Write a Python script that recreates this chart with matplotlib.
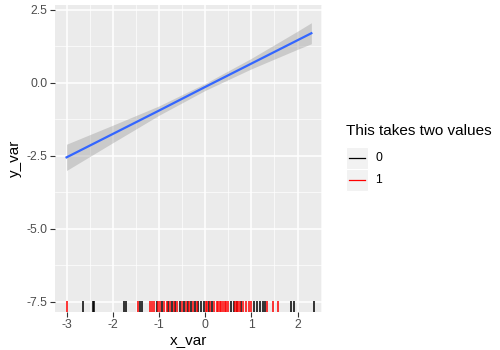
import numpy as np
import matplotlib.pyplot as plt
from matplotlib.lines import Line2D
from matplotlib.patches import Rectangle

plt.rcParams['font.family'] = ['Liberation Sans', 'DejaVu Sans']

# rug: x values for each group
rug_x0 = [-2.65, -2.43, -2.41, -1.76, -1.71, -1.40, -1.37, -1.05, -0.93, -0.80,
          -0.72, -0.65, -0.55, -0.45, -0.38, -0.30, -0.22, -0.15, -0.10, -0.02,
          0.08, 0.15, 0.55, 0.62, 0.70, 0.78, 1.05, 1.12, 1.18, 1.25, 1.30,
          1.85, 1.92, 2.35]
rug_x1 = [-3.0, -1.45, -1.20, -1.15, -1.10, -1.02, -0.97, -0.88, -0.83, -0.76,
          -0.68, -0.60, -0.50, -0.42, -0.35, -0.27, -0.18, 0.02, 0.05, 0.10,
          0.20, 0.25, 0.28, 0.32, 0.35, 0.38, 0.42, 0.45, 0.50, 0.65, 0.68,
          0.72, 0.75, 0.82, 0.88, 0.95, 1.00, 1.35, 1.48, 1.58]

# smooth (lm) fit and its confidence band
fit_x = [-3.0, -2.0, -1.0, 0.0, 1.0, 2.0, 2.3]
fit_y = [-2.55, -1.75, -0.95, -0.14, 0.66, 1.46, 1.70]
fit_lo = [-3.00, -2.05, -1.11, -0.26, 0.48, 1.15, 1.34]
fit_hi = [-2.10, -1.45, -0.79, -0.02, 0.84, 1.77, 2.06]

groups = ['0', '1']
group_cols = ['black', '#FF0000']

fig = plt.figure(figsize=(5, 3.5), dpi=100)
ax = fig.add_axes([0.11, 0.109, 0.534, 0.877])
ax.set_facecolor('#EBEBEB')

ax.set_xlim(-3.25, 2.53)
ax.set_ylim(-7.84, 2.67)

# grid
ax.set_xticks([-3, -2, -1, 0, 1, 2])
ax.set_yticks([-7.5, -5.0, -2.5, 0.0, 2.5])
ax.set_xticks(np.arange(-2.5, 2.6, 1.0), minor=True)
ax.set_yticks([-6.25, -3.75, -1.25, 1.25], minor=True)
ax.grid(True, which='major', color='white', linewidth=1.1)
ax.grid(True, which='minor', color='white', linewidth=0.5)
ax.set_axisbelow(True)
for s in ax.spines.values():
    s.set_visible(False)
ax.tick_params(which='minor', length=0)
ax.tick_params(which='major', length=3.5, width=0.8, color='#333333',
               labelcolor='#4D4D4D', labelsize=8.8, pad=2)
ax.set_yticklabels(['-7.5', '-5.0', '-2.5', '0.0', '2.5'])
ax.set_xticklabels(['-3', '-2', '-1', '0', '1', '2'])

ax.fill_between(fit_x, fit_lo, fit_hi, color='#999999', alpha=0.4, linewidth=0)
ax.plot(fit_x, fit_y, color='#3366FF', linewidth=1.6)

# rug at the bottom
tr = ax.get_xaxis_transform()
ax.vlines(rug_x0, 0, 0.035, transform=tr, color=group_cols[0], linewidth=1.1)
ax.vlines(rug_x1, 0, 0.035, transform=tr, color=group_cols[1], linewidth=1.1)

ax.set_xlabel('x_var', fontsize=11, labelpad=2)
ax.set_ylabel('y_var', fontsize=11, labelpad=3)

# legend
W, H = 500, 350
fig.text(346 / W, 1 - 131 / H, 'This takes two values', fontsize=11, va='center', ha='left')
for i, (g, c) in enumerate(zip(groups, group_cols)):
    y0 = 147 + i * 22
    fig.add_artist(Rectangle((346 / W, 1 - (y0 + 22) / H), 22 / W, 22 / H,
                             transform=fig.transFigure, facecolor='#F2F2F2',
                             edgecolor='white', linewidth=0.8))
    yc = 1 - (y0 + 11) / H
    fig.add_artist(Line2D([349 / W, 365 / W], [yc, yc], transform=fig.transFigure,
                          color=c, linewidth=0.9))
    fig.text(375 / W, yc, g, fontsize=8.8, va='center', ha='left')

fig.savefig('out.png', dpi=100)
